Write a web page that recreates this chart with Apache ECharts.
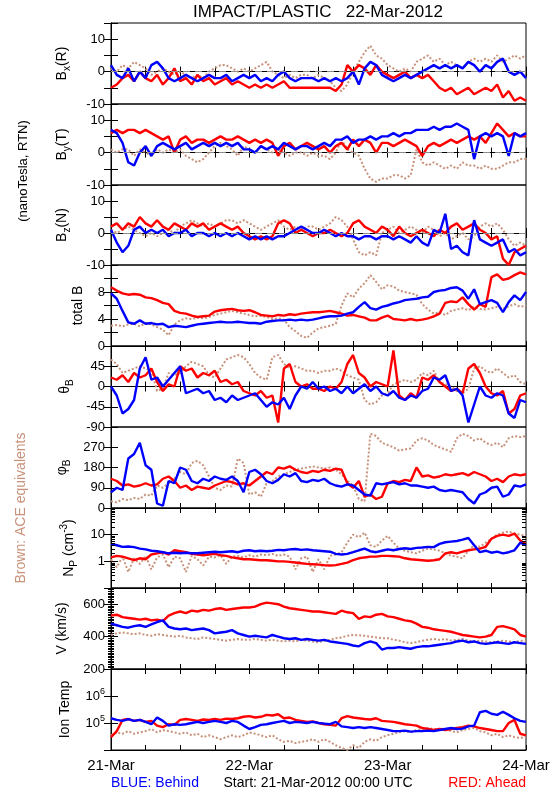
<!DOCTYPE html>
<html><head><meta charset="utf-8">
<script src="https://cdn.jsdelivr.net/npm/echarts@6/dist/echarts.min.js"></script>
<style>html,body{margin:0;padding:0;background:#fff}#c{width:550px;height:800px}</style>
</head><body><div id="c"></div>
<script>
// time stamps: hours since 21-Mar-2012 00:00 UTC
const hours = [0,1,2,3,4,5,6,7,8,9,10,11,12,13,14,15,16,17,18,19,20,21,22,23,24,25,26,27,28,29,30,31,32,33,34,35,36,37,38,39,40,41,42,43,44,45,46,47,48,49,50,51,52,53,54,55,56,57,58,59,60,61,62,63,64,65,66,67,68,69,70,71,72];
const dayTicks = [0, 24, 48, 72];
const dayLabels = ['21-Mar', '22-Mar', '23-Mar', '24-Mar'];

const bxBlue  = [2,-1,-2,1,-3,0,-2,2,3,1,-2,-3, -2,-1,-2,-3,-2,-1,-2,-2,-1,-3,-2,-1, -2,-1,-3,-2,-3,-1,0,-2,-3,-2,-2,-2, -3,-2,-3,-2,-3,-2,0,-4,1,3,2,-1, -2,-3,-2,-1,-2,-1,0,1,2,1,2,1, 2,1,3,2,0,2,1,3,4,0,-1,0,-2];
const bxRed   = [-5,-4,-2,-1,-3,0,-2,-3,-1,-4,-2,1, -3,-2,-4,-1,-3,-2,-4,-3,-2,-4,-3,-4, -5,-4,-5,-4,-5,-4,-3,-5,-5,-5,-5,-5, -5,-5,-5,-6,-4,2,0,2,1,-1,2,0, -1,-2,-1,0,-2,-1,-2,-1,-3,-5,-6,-5, -7,-6,-5,-7,-6,-5,-6,-4,-8,-6,-9,-8,-9];
const bxBrown = [1,0,2,1,3,2,1,-1,0,1,0,-1, 0,-1,-2,-1,-2,0,1,2,2,1,0,1, 0,1,2,3,0,-1,-2,-1,-2,-1,-1,-2, -1,-2,-3,-5,-6,-4,0,3,6,8,5,4, 2,1,0,1,0,3,4,5,3,4,2,3, 2,1,3,4,3,4,3,5,3,4,5,4,5];

const byBlue  = [7,6,3,-3,-4,0,2,-1,2,3,2,1, 2,3,1,2,3,2,3,2,3,2,3,1, 1,0,2,1,2,1,3,2,1,2,2,1, 2,3,2,4,4,5,3,4,4,5,4,5, 5,6,5,6,6,7,7,7,8,7,8,8, 9,8,7,-2,5,6,5,6,5,-1,6,5,6];
const byRed   = [6,7,6,7,7,6,7,6,5,4,5,0, 4,5,3,4,4,3,4,5,4,4,5,4, 3,4,3,4,3,-1,2,3,1,2,3,2, 1,2,0,2,3,1,4,2,4,3,0,3, 3,2,3,4,3,2,-1,2,3,2,3,4, 3,4,5,4,5,3,6,9,7,5,6,5,5];
const byBrown = [1,0,1,1,-1,1,0,-1,1,0,1,0, 1,-1,-2,-3,-2,0,2,3,2,1,-1,2, 1,0,2,1,0,1,0,-1,0,0,-1,0, -1,-1,-2,0,4,1,0,-1,-5,-8,-9,-8, -8,-7,-7,-8,-7,1,-3,-4,-3,-4,-5,-4, -5,-3,-4,-4,-5,-4,-5,-5,-4,-3,-3,-2,-2];

const bzBlue  = [1,-3,-6,-4,1,2,0,1,0,1,-1,0, 0,1,-1,0,0,-1,0,-1,0,-1,0,-1, -2,-1,-2,-1,-2,-1,-1,0,1,2,1,0, 0,1,0,-1,0,-1,-1,-2,-1,-1,-2,-1, -1,-2,-1,-2,-3,-1,-3,-4,1,0,6,-5, -4,-6,-7,4,-2,-3,-4,-3,-2,-6,-5,-7,-6];
const bzRed   = [2,3,1,3,2,5,3,2,4,2,1,3, 2,1,3,2,3,1,2,3,2,1,2,0, -1,-2,-1,-2,-1,3,4,3,0,1,0,-1, 0,0,1,0,-1,0,3,4,2,1,0,2, 1,-1,2,0,-1,0,1,0,-1,1,0,2, 3,1,2,3,1,0,-2,-1,-8,-10,-6,-5,-4];
const bzBrown = [1,0,1,2,1,0,-1,0,-1,0,1,0, 2,3,4,3,2,3,2,3,4,4,3,4, 3,2,1,2,3,4,2,1,2,1,2,2, 1,2,3,5,4,2,-2,-6,-7,-6,-7,0, 1,2,0,1,2,1,0,2,1,-1,0,-2, -1,0,-2,-1,2,3,2,3,1,-2,-4,-3,-4];

const btBlue  = [7.8,7,5.2,3.5,3.3,3.8,3.3,3.4,3.2,3.3,2.8,3, 2.9,2.8,3,3.2,3.3,3.4,3.5,3.6,3.5,3.5,3.6,3.5, 3.4,3.4,3.3,3.6,3.7,3.8,3.8,3.9,3.8,3.9,3.8,3.9, 4.1,4.3,4.4,4.4,4.5,4.8,5,5.8,6.5,5.6,5.4,5.8, 6,6.3,6.5,6.8,6.9,7,7.2,7.3,8,8.2,8.3,8.6, 8.7,8.2,7,8.4,6.2,6.5,6.8,6.4,5,6.5,7.5,6.8,8];
const btRed   = [8.7,8.2,7.8,7.6,7.7,7.6,7.2,7.1,6.8,6.4,6.2,5.2, 4.9,4.8,4.5,4.3,4.4,4.5,5.1,5.3,5.4,5.5,5.3,5.2, 5.3,5,4.6,4.5,4.4,4.6,4.5,4.7,4.6,4.8,4.9,5, 5,5.1,5.2,5,4.8,4.5,4.6,4.4,4.2,3.8,3.8,4.2, 4.5,4,3.9,3.8,4,3.8,3.9,4.1,4.4,4.8,6.4,6.6, 6.5,7.2,6.2,5.4,6.2,5.8,10.2,10.6,9.8,10,10.5,10.9,10.6];
const btBrown = [3,3.1,2.9,3.2,3.3,2.9,3.4,3.2,2.8,2.4,1.6,3.2, 3.8,4.1,4,4.2,4.1,4.3,4.6,4.8,5,5.2,5,4.8, 4.6,4.4,4.5,4.3,4,4.1,3.9,2.8,2.2,1.5,1.2,2, 2.6,2.8,3,3.3,6,7.8,7.2,8.5,9.3,10.5,9.5,8.4, 9,8.8,8.2,8,7.8,7.6,6.2,5.4,4.8,5,4.6,5.2, 5.4,5.6,5.3,5.8,5.5,5.4,5.6,5.8,5.5,5.9,6.2,5.8,6];

const thBlue  = [0,-20,-60,-50,-30,40,65,15,20,0,15,30, 45,-15,-10,-5,-15,-10,-30,-25,-35,-20,-30,-25, -20,-15,-30,-45,-35,-40,-25,-50,-20,0,-5,10, -5,0,-10,-5,-15,0,-15,-5,5,-10,0,-15, -20,-10,-25,-30,-20,-25,-10,-5,20,15,25,-10, -5,-20,-80,-40,0,-20,-25,-15,-20,-60,-70,-30,-35];
const thRed   = [20,15,25,10,30,20,25,40,10,-10,5,0, 45,35,40,20,30,25,35,10,15,5,10,-10, -15,-20,-10,-25,-20,-80,40,50,10,0,5,-5, -5,-10,0,-5,10,50,70,30,20,0,10,5, 0,80,-20,-30,-15,-25,20,15,25,10,0,-10, -5,-15,40,50,30,0,-15,-20,-10,-60,-50,-20,-15];
const thBrown = [60,50,30,35,40,45,40,35,-10,-5,30,25, 30,45,55,50,45,25,20,40,60,65,70,65, 50,30,20,15,65,70,50,40,45,40,35,35, 30,35,35,40,35,25,20,15,-30,-40,-35,-20, -15,5,10,15,10,15,30,25,35,10,5,0, -10,-15,-5,40,45,35,30,40,30,20,25,10,5];

const phBlue  = [70,90,80,220,240,290,190,170,20,10,120,110, 180,170,120,110,130,120,140,130,125,140,120,70, 160,170,150,120,110,125,150,140,155,120,115,125, 120,130,110,100,95,105,100,80,60,55,110,105, 110,115,105,110,100,100,95,90,95,80,75,80, 75,70,40,20,60,70,90,95,50,60,100,95,105];
const phRed   = [130,120,100,105,95,100,110,100,105,130,140,120, 90,100,80,95,90,85,100,110,120,115,105,110, 100,120,140,160,150,180,175,185,170,160,155,165, 160,170,165,175,170,110,90,120,50,60,40,50, 110,120,115,125,120,180,140,145,135,140,150,145, 150,155,145,160,150,140,120,130,115,140,150,145,150];
const phBrown = [30,25,40,35,45,40,60,55,100,90,110,130, 160,150,200,210,190,140,90,80,100,95,220,200, 60,70,50,110,120,140,150,160,170,175,180,185, 180,175,180,170,150,120,100,40,30,330,320,290, 280,270,255,260,265,300,310,300,280,270,260,250, 310,330,320,300,310,290,280,290,270,310,320,315,320];

const npBlue  = [4.5,4,3.5,3.6,3.4,3,2.8,2.5,2.4,2.2,2,2.1, 2,2.1,2,2,2.1,2.2,2.3,2.2,2.3,2.4,2.2,2.5, 2.6,2.4,2.5,2.4,2.5,2.7,2.6,2.8,2.9,2.7,2.8,2.6, 2.5,2.4,2.3,1.9,1.8,1.9,2.2,2.6,3,2.4,2.2,2.5, 2.8,2.6,2.9,3.1,2.9,3.2,3.3,3.5,3.4,4.5,5.2,5.5, 5.8,6.5,7.5,4,2.2,2.5,2.1,2.3,2,2.2,2.6,5,4];
const npRed   = [1.4,1.6,1.5,1.3,1.1,1.3,1.2,1.8,2,2.2,1.8,2.6, 2.4,2.2,1.9,1.8,1.7,1.8,1.9,1.7,1.6,1.4,1.3,1.2, 1.2,1.15,1.1,1.1,1.05,1,1,0.95,0.9,0.85,0.8,0.78, 0.75,0.72,0.7,0.72,0.8,0.9,1.1,1.3,1.4,1.5,1.5,1.6, 1.6,1.55,1.5,1.3,1.2,1.15,1.1,1.05,1.1,1.2,2,2.2, 2,2.3,2.6,2.8,3,3.5,7,9,10,9,11,6,4.5];
const npBrown = [1.2,0.6,1.5,0.4,1.3,0.8,1.6,0.5,1.4,1.8,0.6,1.5, 1.3,0.4,1.6,1.2,0.7,1.5,1.4,1.7,0.8,1.5,1.6,1.4, 1.7,1.5,1.8,1.7,1.9,1.6,1.8,1.5,0.5,1.3,1.5,0.4, 1.2,0.5,1.6,1.8,2.2,5,10,8,12,4,3.5,6, 9,5,3,2.5,2.2,2,2.5,3,2.8,2.5,2,1.6, 1.5,1.3,2.5,4,3.5,5,7,10,12,13,11,10,9];

const vBlue   = [480,470,460,455,465,470,460,475,490,500,460,450, 445,450,440,445,450,440,420,425,430,440,420,410, 400,405,400,395,410,400,390,385,390,380,385,380, 375,380,370,365,360,355,345,340,360,370,360,320, 330,330,335,330,325,335,340,340,345,350,355,360, 370,375,365,370,360,355,360,365,360,355,365,360,355];
const vRed    = [530,535,520,515,510,505,510,500,505,495,530,545, 555,545,560,555,565,560,570,575,565,570,575,580, 580,585,600,610,605,600,585,575,570,565,560,555, 555,550,545,540,560,550,545,510,525,520,535,540, 525,520,510,500,495,480,460,455,445,440,435,430, 420,410,405,400,395,400,410,460,465,455,445,410,400];
const vBrown  = [410,420,425,420,415,420,410,405,415,410,405,400, 405,395,390,385,395,390,385,380,375,380,385,380, 380,385,380,375,380,375,370,375,370,380,375,370, 365,375,380,390,395,405,410,408,405,400,395,390, 390,380,375,365,360,365,375,380,385,380,385,375, 380,385,375,370,375,370,365,370,375,370,365,375,370];

const tBlue   = [1.5e5,1.3e5,1.2e5,1.4e5,1.2e5,1.3e5,1.1e5,0.9e5,1.6e5,1.2e5,0.8e5,0.9e5, 0.85e5,0.9e5,1e5,1.1e5,1e5,1.1e5,1.2e5,1.1e5,1e5,1.2e5,1.1e5,0.8e5, 0.6e5,0.7e5,0.85e5,0.9e5,1e5,1.1e5,1.2e5,1e5,1.1e5,1.05e5,1e5,1.1e5, 1e5,0.95e5,0.9e5,1.1e5,0.75e5,0.7e5,0.65e5,0.7e5,0.65e5,0.7e5,0.65e5,0.6e5, 0.55e5,0.5e5,0.5e5,0.52e5,0.48e5,0.5e5,0.5e5,0.52e5,0.5e5,0.55e5,0.6e5,0.65e5, 0.6e5,0.62e5,0.75e5,0.8e5,2.5e5,2.8e5,2.2e5,2e5,2.6e5,2e5,1.5e5,1.2e5,1.1e5];
const tRed    = [0.3e5,0.5e5,1.3e5,1.4e5,1.2e5,1.3e5,1.1e5,1.2e5,0.8e5,0.7e5,0.9e5,0.85e5, 1.3e5,1.4e5,1.3e5,1.2e5,1.35e5,1.3e5,1.4e5,1.3e5,1.45e5,1.4e5,1.5e5,1.7e5, 1.8e5,1.6e5,1.7e5,2e5,1.9e5,2.1e5,1.5e5,1.6e5,1.3e5,1.2e5,1.1e5,1.15e5, 1e5,0.9e5,0.85e5,0.8e5,1.5e5,1.8e5,1.6e5,1.5e5,1.4e5,1.35e5,1.5e5,1.2e5, 1.15e5,1.1e5,1e5,0.9e5,0.85e5,0.8e5,0.65e5,0.6e5,0.55e5,0.6e5,0.55e5,0.6e5, 0.65e5,0.7e5,0.8e5,0.75e5,0.65e5,0.6e5,0.55e5,0.5e5,0.5e5,1e5,1.3e5,0.4e5,0.35e5];
const tBrown  = [0.35e5,0.45e5,0.4e5,0.5e5,0.4e5,0.45e5,0.5e5,0.6e5,0.45e5,0.55e5,0.5e5,0.45e5, 0.4e5,0.45e5,0.35e5,0.4e5,0.3e5,0.35e5,0.3e5,0.25e5,0.3e5,0.35e5,0.3e5,0.35e5, 0.45e5,0.4e5,0.35e5,0.3e5,0.35e5,0.25e5,0.2e5,0.22e5,0.18e5,0.2e5,0.22e5,0.25e5, 0.2e5,0.25e5,0.2e5,0.15e5,0.12e5,0.1e5,0.15e5,0.12e5,0.2e5,0.25e5,0.22e5,0.3e5, 0.35e5,0.4e5,0.45e5,0.5e5,0.45e5,0.55e5,0.6e5,0.65e5,0.6e5,0.55e5,0.65e5,0.5e5, 0.45e5,0.55e5,0.6e5,0.65e5,0.5e5,0.45e5,0.35e5,0.4e5,0.3e5,0.35e5,0.3e5,0.28e5,0.3e5];

// tick labels shown on each panel's left axis
const bLabels  = [-10, 0, 10];
const btLabels = [0, 4, 8];
const thLabels = [-90, -45, 0, 45];
const phLabels = [0, 90, 180, 270];
const npLabels = [1, 10];
const vLabels  = [200, 400, 600];
const tLabels  = [1e5, 1e6];
const npMinor  = [0.2,0.3,0.4,0.5,0.6,0.7,0.8,0.9,2,3,4,5,6,7,8,9,20,30,40,50,60,70,80,90];

const F = '"Liberation Sans", Arial, sans-serif';
const BLUE = '#0000ff', RED = '#ff0000', BROWN = '#c8917a';

const panels = [
  {name:'{b|B}{s|x}{b|(R)}', d:[bxBlue,bxRed,bxBrown], type:'value', min:-10, max:15, interval:5, labels:bLabels, gap:39, zero:true},
  {name:'{b|B}{s|y}{b|(T)}', d:[byBlue,byRed,byBrown], type:'value', min:-10, max:15, interval:5, labels:bLabels, gap:39, zero:true},
  {name:'{b|B}{s|z}{b|(N)}', d:[bzBlue,bzRed,bzBrown], type:'value', min:-10, max:15, interval:5, labels:bLabels, gap:39, zero:true},
  {name:'{b|total B}', d:[btBlue,btRed,btBrown], type:'value', min:0, max:12, interval:2, labels:btLabels, gap:23},
  {name:'{b|θ}{s|B}', d:[thBlue,thRed,thBrown], type:'value', min:-90, max:90, interval:45, labels:thLabels, gap:36},
  {name:'{b|φ}{s|B}', d:[phBlue,phRed,phBrown], type:'value', min:0, max:360, interval:90, labels:phLabels, gap:34},
  {name:'{b|N}{s|P}{b| (cm}{p|-3}{b|)}', d:[npBlue,npRed,npBrown], type:'log', min:0.1, max:100, labels:npLabels, gap:27, logMinor:true},
  {name:'{b|V (km/s)}', d:[vBlue,vRed,vBrown], type:'value', min:200, max:700, interval:200, labels:vLabels, gap:39, minor:20},
  {name:'{b|Ion Temp}', d:[tBlue,tRed,tBrown], type:'log', min:1e4, max:1e7, labels:tLabels, gap:36, sup:true}
];

const rich = {
  b: {fontSize:14, fontFamily:F, color:'#000', lineHeight:20},
  s: {fontSize:10, fontFamily:F, color:'#000', lineHeight:10, verticalAlign:'bottom'},
  p: {fontSize:10, fontFamily:F, color:'#000', lineHeight:10, verticalAlign:'top'}
};
const lrich = {
  b: {fontSize:13, fontFamily:F, color:'#000', lineHeight:18},
  p: {fontSize:9, fontFamily:F, color:'#000', lineHeight:9, verticalAlign:'top'}
};

const grids = [], xAxes = [], yAxes = [], series = [];
panels.forEach((p, i) => {
  const top = Math.round(23.3 + 80.7 * i);
  const h = Math.round(23.3 + 80.7 * (i + 1)) - top;
  grids.push({left:111, right:24, top:top, height:h, show:true, borderColor:'#000', borderWidth:1, backgroundColor:'transparent', outerBoundsMode:'none', containLabel:false});
  const last = i === panels.length - 1;
  const xBase = {gridIndex:i, type:'value', min:0, max:72, interval:6,
    axisLine:{show:true, lineStyle:{color:'#000', width:1}},
    axisTick:{show:true, inside:true, length:5, lineStyle:{color:'#000'}},
    splitLine:{show:false}};
  xAxes.push(Object.assign({}, xBase, {position:'bottom',
    axisLabel:{show:last, color:'#000', fontFamily:F, fontSize:15, margin:8, showMinLabel:true, showMaxLabel:true, hideOverlap:false,
      formatter: v => { const k = dayTicks.indexOf(v); return k >= 0 ? dayLabels[k] : ''; }}}));
  xAxes.push(Object.assign({}, xBase, {position:'top', axisLabel:{show:false}}));
  const fmt = v => {
    const hit = p.labels.find(t => Math.abs(v - t) <= Math.abs(t) * 1e-6 + 1e-9);
    if (hit === undefined) return '';
    if (p.sup) return '{b|10}{p|' + Math.round(Math.log10(hit)) + '}';
    return String(hit);
  };
  const yBase = {gridIndex:i, type:p.type, min:p.min, max:p.max,
    axisLine:{show:true, lineStyle:{color:'#000', width:1}},
    axisTick:{show:true, inside:true, length:7, lineStyle:{color:'#000'}},
    splitLine:{show:false}};
  if (p.interval) yBase.interval = p.interval;
  if (p.minor) { yBase.minorTick = {show:true, splitNumber:p.minor, length:3, lineStyle:{color:'#000'}}; yBase.minorSplitLine = {show:false}; }
  yAxes.push(Object.assign({}, yBase, {position:'left', name:p.name, nameLocation:'middle', nameRotate:90, nameGap:p.gap,
    nameTextStyle:{rich:rich, fontFamily:F, color:'#000'},
    axisLabel:{show:true, color:'#000', fontFamily:F, fontSize:13, margin:6, showMinLabel:true, showMaxLabel:true, hideOverlap:false, formatter:fmt, rich:lrich}}));
  yAxes.push(Object.assign({}, yBase, {position:'right', axisLabel:{show:false}}));
  const colors = [BLUE, RED, BROWN];
  const order = [2, 1, 0];
  order.forEach((k, n) => {
    const brown = k === 2;
    const s = {type:'line', xAxisIndex:2*i, yAxisIndex:2*i, showSymbol:false, symbol:'none', silent:true,
      data: hours.map((t, j) => [t, p.d[k][j]]),
      lineStyle: brown ? {color:colors[k], width:2, type:[2,2]} : {color:colors[k], width:2.4},
      itemStyle:{color:colors[k]}, z: 2 + n};
    if (brown && p.zero) {
      s.markLine = {silent:true, symbol:'none', label:{show:false}, animation:false,
        lineStyle:{type:[7,5], color:'#8c8c8c', width:1}, data:[{yAxis:0}]};
    }
    series.push(s);
  });
  if (p.logMinor) {
    series.push({type:'custom', xAxisIndex:2*i, yAxisIndex:2*i, silent:true, z:10, clip:false,
      data: npMinor.map(v => [0, v]), encode:{x:0, y:1},
      renderItem: (params, api) => {
        const v = api.value(1);
        const a = api.coord([0, v]), b = api.coord([72, v]);
        return {type:'group', children:[
          {type:'line', shape:{x1:a[0], y1:Math.round(a[1])+0.5, x2:a[0]+4, y2:Math.round(a[1])+0.5}, style:{stroke:'#000', lineWidth:1}},
          {type:'line', shape:{x1:b[0]-4, y1:Math.round(b[1])+0.5, x2:b[0], y2:Math.round(b[1])+0.5}, style:{stroke:'#000', lineWidth:1}}
        ]};
      }});
  }
});

const chart = echarts.init(document.getElementById('c'), null, {renderer:'canvas'});
chart.setOption({
  animation:false,
  backgroundColor:'#fff',
  grid:grids, xAxis:xAxes, yAxis:yAxes, series:series,
  graphic:[
    {type:'text', x:318, y:12, style:{text:'IMPACT/PLASTIC   22-Mar-2012', font:'17px ' + F, fill:'#000', align:'center', verticalAlign:'middle'}},
    {type:'text', x:23, y:171, rotation:Math.PI/2, style:{text:'(nanoTesla, RTN)', font:'13px ' + F, fill:'#000', align:'center', verticalAlign:'middle'}},
    {type:'text', x:21, y:508, rotation:Math.PI/2, style:{text:'Brown: ACE equivalents', font:'14px ' + F, fill:BROWN, align:'center', verticalAlign:'middle'}},
    {type:'text', x:111, y:783, style:{text:'BLUE: Behind', font:'14px ' + F, fill:BLUE, align:'left', verticalAlign:'middle'}},
    {type:'text', x:318, y:783, style:{text:'Start: 21-Mar-2012 00:00 UTC', font:'14px ' + F, fill:'#000', align:'center', verticalAlign:'middle'}},
    {type:'text', x:526, y:783, style:{text:'RED: Ahead', font:'14px ' + F, fill:RED, align:'right', verticalAlign:'middle'}}
  ]
});
</script>
</body></html>
